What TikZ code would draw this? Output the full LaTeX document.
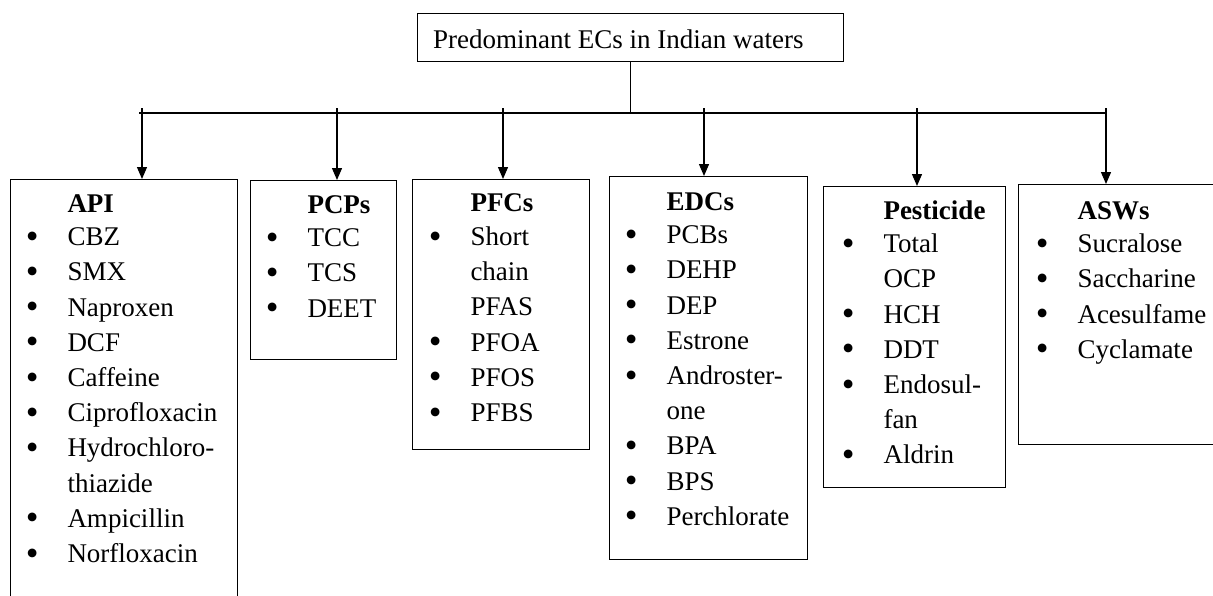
\documentclass[tikz,border=0pt]{standalone}
\usepackage{fontspec}
\setmainfont{Liberation Serif}
\usetikzlibrary{arrows.meta}
\newcommand\ecfont{\fontsize{27}{35.2}\selectfont}
\newcommand\eclist[2]{\begin{tabular}[t]{@{}p{40pt}@{}l@{}}&\textbf{#1}\\[-1.5pt]#2\end{tabular}}
\newcommand\ecbul{\hspace*{-1.6pt}\raisebox{-2.6pt}{\scalebox{1.35}{•}}}
\begin{document}
\begin{tikzpicture}[x=1pt,y=-1pt,
  ecbox/.style={draw, line width=1.3pt, inner sep=0pt, anchor=north west},
  listtext/.style={anchor=base west, inner sep=0pt, font=\ecfont},
  feed/.style={line width=1.3pt, -{Triangle[length=12pt,width=10pt]}},
  busline/.style={line width=1.5pt}]
\useasboundingbox (0,0) rectangle (1213,595);
\clip (0,0) rectangle (1213,595);
% title box
\node[ecbox, minimum width=426pt, minimum height=48pt] (top) at (417,13) {};
\node[listtext] (toptext) at (433,48) {Predominant ECs in Indian waters};
% category boxes
\node[ecbox, minimum width=227pt, minimum height=441pt] (api) at (10,179) {};
\node[ecbox, minimum width=146pt, minimum height=179pt] (pcps) at (250,180) {};
\node[ecbox, minimum width=177pt, minimum height=270pt] (pfcs) at (412,179) {};
\node[ecbox, minimum width=198pt, minimum height=383pt] (edcs) at (609,176) {};
\node[ecbox, minimum width=182pt, minimum height=301pt] (pest) at (823,186) {};
\node[ecbox, minimum width=212pt, minimum height=260pt] (asws) at (1018,184) {};
% lists
\node[listtext] (apitext) at (27.3,212) {\eclist{API}{%
  \ecbul & CBZ\\ \ecbul & SMX\\ \ecbul & Naproxen\\ \ecbul & DCF\\ \ecbul & Caffeine\\ \ecbul & Ciprofloxacin\\
  \ecbul & Hydrochloro-\\ & thiazide\\ \ecbul & Ampicillin\\ \ecbul & Norfloxacin}};
\node[listtext] (pcpstext) at (267.3,213) {\eclist{PCPs}{%
  \ecbul & TCC\\ \ecbul & TCS\\ \ecbul & DEET}};
\node[listtext] (pfcstext) at (430.3,211.7) {\eclist{PFCs}{%
  \ecbul & Short\\ & chain\\ & PFAS\\ \ecbul & PFOA\\ \ecbul & PFOS\\ \ecbul & PFBS}};
\node[listtext] (edcstext) at (626.3,210) {\eclist{EDCs}{%
  \ecbul & PCBs\\ \ecbul & DEHP\\ \ecbul & DEP\\ \ecbul & Estrone\\ \ecbul & Androster-\\ & one\\
  \ecbul & BPA\\ \ecbul & BPS\\ \ecbul & Perchlorate}};
\node[listtext] (pesttext) at (843.3,219) {\eclist{Pesticide}{%
  \ecbul & Total\\ & OCP\\ \ecbul & HCH\\ \ecbul & DDT\\ \ecbul & Endosul-\\ & fan\\ \ecbul & Aldrin}};
\node[listtext] (aswstext) at (1037.3,219) {\eclist{ASWs}{%
  \ecbul & Sucralose\\ \ecbul & Saccharine\\ \ecbul & Acesulfame\\ \ecbul & Cyclamate}};
% connectors
\coordinate (busL) at (139,113);
\coordinate (busR) at (1106,113);
\draw[busline] (busL) -- (busR);
\draw[line width=1.3pt] (top.south) -- (top.south |- busL);
\coordinate (t1) at (142,108);
\coordinate (t2) at (337,108);
\coordinate (t3) at (503,108);
\coordinate (t4) at (704,108);
\coordinate (t5) at (917,108);
\coordinate (t6) at (1106,108);
\draw[feed] (t1) -- (t1 |- api.north);
\draw[feed] (t2) -- (t2 |- pcps.north);
\draw[feed] (t3) -- (t3 |- pfcs.north);
\draw[feed] (t4) -- (t4 |- edcs.north);
\draw[feed] (t5) -- (t5 |- pest.north);
\draw[feed] (t6) -- (t6 |- asws.north);
\end{tikzpicture}
\end{document}
